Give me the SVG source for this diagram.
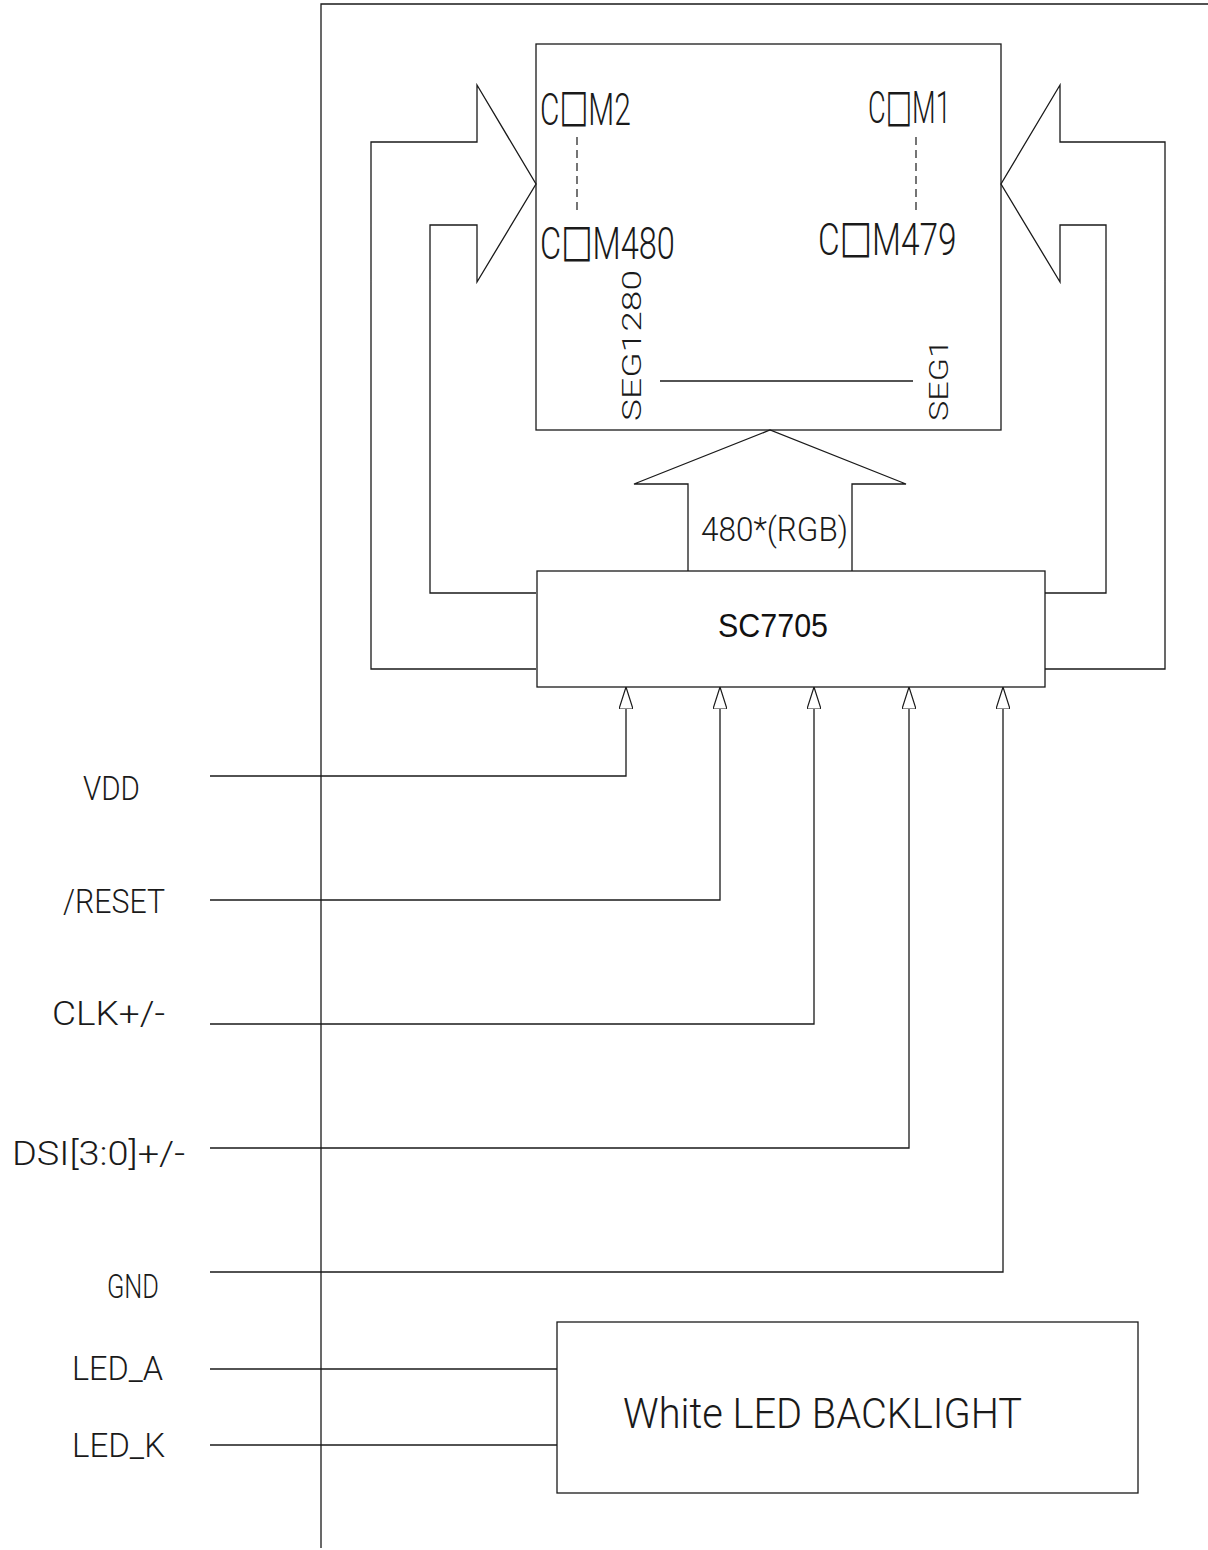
<svg xmlns="http://www.w3.org/2000/svg" width="1208" height="1550" viewBox="0 0 1208 1550">
<style>
.ln{fill:none;stroke:#1a1a1a;stroke-width:1.3}
.dash{fill:none;stroke:#1a1a1a;stroke-width:1.2;stroke-dasharray:8 5}
.t{font-family:Roboto,"Liberation Sans",Arial,sans-serif;font-weight:300;fill:#1a1a1a}
.b{font-family:"Liberation Sans",Arial,sans-serif;font-weight:normal;fill:#111}
.box{font-family:"DejaVu Sans",sans-serif;font-weight:normal}
</style>
<defs>
<marker id="ah" viewBox="0 0 22 14" refX="22" refY="7" markerWidth="22" markerHeight="14" markerUnits="userSpaceOnUse" orient="auto">
<path d="M22,7 L0,0 L0,14 Z" fill="#fff" stroke="#1a1a1a" stroke-width="1.2"/>
</marker>
</defs>
<rect width="1208" height="1550" fill="#fff"/>
<g id="frame">
<path class="ln" d="M321,1548 L321,4 L1208,4"/>
</g>
<g id="panel">
<rect class="ln" x="536" y="44" width="465" height="386"/>
<text class="t" transform="translate(540,125) scale(0.68,1)" font-size="44">C<tspan class="box" font-size="45" baseline-shift="3">□</tspan>M2</text>
<text class="t" transform="translate(540,259) scale(0.74,1)" font-size="44">C<tspan class="box" font-size="45" baseline-shift="3">□</tspan>M480</text>
<text class="t" transform="translate(868,123) scale(0.62,1)" font-size="44">C<tspan class="box" font-size="45" baseline-shift="3">□</tspan>M1</text>
<text class="t" transform="translate(818,255) scale(0.76,1)" font-size="44">C<tspan class="box" font-size="45" baseline-shift="3">□</tspan>M479</text>
<line class="dash" x1="577" y1="137" x2="577" y2="213"/>
<line class="dash" x1="916" y1="137" x2="916" y2="213"/>
<text class="t" transform="translate(641,421) rotate(-90)" font-size="26" textLength="151" lengthAdjust="spacingAndGlyphs">SEG1280</text>
<text class="t" transform="translate(948,421) rotate(-90)" font-size="26" textLength="82" lengthAdjust="spacingAndGlyphs">SEG1</text>
<line class="ln" x1="660" y1="381" x2="913" y2="381"/>
</g>
<g id="driver">
<rect class="ln" x="537" y="571" width="508" height="116"/>
<text class="b" x="718" y="637" font-size="34" textLength="110" lengthAdjust="spacingAndGlyphs">SC7705</text>
</g>
<g id="backlight">
<rect class="ln" x="557" y="1322" width="581" height="171"/>
<text class="t" x="623" y="1428" font-size="43" textLength="399" lengthAdjust="spacingAndGlyphs">White LED BACKLIGHT</text>
</g>
<g id="labels">
<text class="t" x="83" y="800" font-size="34" textLength="57" lengthAdjust="spacingAndGlyphs">VDD</text>
<text class="t" x="63" y="913" font-size="34" textLength="102" lengthAdjust="spacingAndGlyphs">/RESET</text>
<text class="t" x="52" y="1025" font-size="34" textLength="113" lengthAdjust="spacingAndGlyphs">CLK+/-</text>
<text class="t" x="12" y="1165" font-size="34" textLength="173" lengthAdjust="spacingAndGlyphs">DSI[3:0]+/-</text>
<text class="t" x="107" y="1298" font-size="34" textLength="52" lengthAdjust="spacingAndGlyphs">GND</text>
<text class="t" x="72" y="1380" font-size="34" textLength="91" lengthAdjust="spacingAndGlyphs">LED_A</text>
<text class="t" x="72" y="1457" font-size="34" textLength="93" lengthAdjust="spacingAndGlyphs">LED_K</text>
</g>
<g id="connectors">
<path class="ln" d="M536,669 L371,669 L371,142 L477,142 L477,85 L536,184 L477,282 L477,225 L430,225 L430,593 L536,593"/>
<path class="ln" d="M1045,669 L1165,669 L1165,142 L1060,142 L1060,85 L1001,184 L1060,282 L1060,225 L1106,225 L1106,593 L1045,593"/>
<path class="ln" d="M688,571 L688,484 L634,484 L770,430 L906,484 L852,484 L852,571"/>
<text class="t" x="701" y="541" font-size="33" textLength="147" lengthAdjust="spacingAndGlyphs">480*(RGB)</text>
<path class="ln" d="M210,776 L626,776 L626,687" marker-end="url(#ah)"/>
<path class="ln" d="M210,900 L720,900 L720,687" marker-end="url(#ah)"/>
<path class="ln" d="M210,1024 L814,1024 L814,687" marker-end="url(#ah)"/>
<path class="ln" d="M210,1148 L909,1148 L909,687" marker-end="url(#ah)"/>
<path class="ln" d="M210,1272 L1003,1272 L1003,687" marker-end="url(#ah)"/>
<line class="ln" x1="210" y1="1369" x2="557" y2="1369"/>
<line class="ln" x1="210" y1="1445" x2="557" y2="1445"/>
</g>
</svg>
